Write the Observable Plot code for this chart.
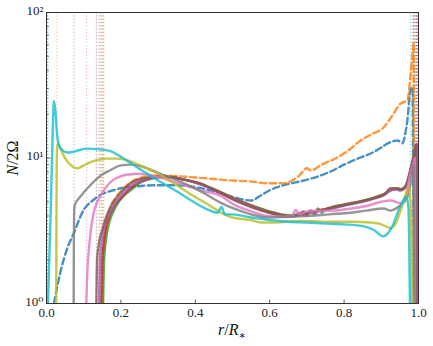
<!DOCTYPE html>
<html><head><meta charset="utf-8">
<script src="https://cdn.jsdelivr.net/npm/d3@7"></script>
<script src="https://cdn.jsdelivr.net/npm/@observablehq/plot@0.6"></script>
<style>
body{margin:0;background:#fff}
svg text{font-family:"Liberation Serif","DejaVu Serif",serif !important;}
</style>
</head><body><div id="chart"></div>
<script>
// ---- data (r/R*, N/2Omega) ----
const models = ["blue","orange","green","red","purple","brown","pink","gray","olive","cyan"];
const modelColors = ["#1f77b4","#ff7f0e","#2ca02c","#d62728","#9467bd","#8c564b","#e377c2","#7f7f7f","#bcbd22","#17becf"];
const dashedModels = ["blue","orange"];

const blueR = [0.02,0.03,0.04,0.056,0.075,0.09,0.1,0.12,0.136,0.16,0.18,0.2,0.226,0.26,0.3,0.35,0.4,0.44,0.47,0.5,0.55,0.575,0.6,0.637,0.67,0.71,0.76,0.8,0.84,0.87,0.9,0.917,0.935,0.944,0.957,0.965,0.97,0.978,0.984,0.987];
const blueN = [1,1.35,1.75,2.4,3.1,3.9,4.4,5.0,5.4,5.8,6.0,6.2,6.3,6.45,6.5,6.5,6.3,6.0,5.7,5.4,5.1,5.5,6.0,6.5,6.8,7.2,8.0,9.0,10.0,10.7,11.8,12.6,13.1,13.2,12.6,15,18,29,30.5,1];

const orangeR = [0.15,0.153,0.16,0.17,0.185,0.2,0.23,0.26,0.3,0.35,0.414,0.5,0.55,0.594,0.637,0.66,0.68,0.7,0.71,0.74,0.782,0.81,0.844,0.875,0.906,0.92,0.933,0.952,0.97,0.978,0.984,0.987,0.988];
const orangeN = [1,2.2,3.3,4.4,5.3,5.9,6.9,7.4,7.6,7.5,7.3,7.0,6.9,6.7,6.7,7.0,7.6,8.5,8.2,9.0,10.1,11.2,13.2,14.6,16.2,18,20.2,23.7,24.8,35.7,52,62,1];

const greenR = [0.152,0.154,0.158,0.163,0.17,0.18,0.192,0.205,0.226,0.253,0.28,0.3,0.33,0.37,0.414,0.47,0.5,0.55,0.6,0.65,0.7,0.72,0.73,0.74,0.75,0.8,0.85,0.88,0.91,0.925,0.94,0.952,0.965,0.978,0.99,0.995,0.997];
const greenN = [1,1.8,2.5,3.1,3.7,4.3,4.9,5.4,6.0,6.8,7.2,7.35,7.4,7.1,6.65,5.8,5.35,4.75,4.3,4.05,4.15,4.2,4.5,4.2,4.45,4.8,5.1,5.35,5.7,6.05,6.2,6.1,6.4,8.3,11.2,12.5,1];

const redR = [0.147,0.149,0.153,0.158,0.165,0.175,0.188,0.2,0.226,0.253,0.28,0.3,0.33,0.37,0.414,0.47,0.5,0.55,0.6,0.65,0.7,0.71,0.72,0.73,0.75,0.8,0.85,0.88,0.91,0.925,0.94,0.952,0.965,0.978,0.99,0.994,0.996];
const redN = [1,1.8,2.5,3.1,3.7,4.3,4.9,5.3,6.2,6.9,7.25,7.4,7.4,7.1,6.6,5.75,5.3,4.7,4.25,4.0,4.1,4.35,4.15,4.35,4.45,4.75,5.05,5.3,5.65,6.0,6.1,6.0,6.3,8.2,11,12.5,1];

const purpleR = [0.141,0.143,0.147,0.152,0.16,0.172,0.185,0.2,0.226,0.253,0.28,0.3,0.33,0.37,0.414,0.47,0.5,0.55,0.6,0.65,0.69,0.7,0.71,0.72,0.73,0.75,0.8,0.85,0.88,0.91,0.925,0.94,0.952,0.965,0.978,0.988,0.993,0.995];
const purpleN = [1,1.8,2.5,3.1,3.7,4.3,4.9,5.5,6.4,7.0,7.3,7.45,7.4,7.1,6.6,5.7,5.25,4.65,4.2,3.95,4.2,4.0,4.3,4.1,4.3,4.4,4.7,5.0,5.25,5.6,6.0,6.1,6.0,6.3,8.0,10.2,12,1];

const brownR = [0.134,0.136,0.14,0.15,0.16,0.172,0.185,0.2,0.226,0.253,0.28,0.3,0.33,0.37,0.414,0.47,0.5,0.55,0.6,0.65,0.68,0.69,0.7,0.71,0.72,0.75,0.8,0.85,0.88,0.91,0.925,0.94,0.952,0.965,0.978,0.987,0.992,0.994];
const brownN = [1,2.0,2.5,3.2,3.9,4.6,5.2,5.8,6.7,7.2,7.4,7.5,7.4,7.1,6.7,5.7,5.2,4.6,4.2,3.95,4.1,4.3,4.15,4.35,4.3,4.45,4.75,5.05,5.3,5.7,6.2,6.2,6.1,6.4,7.9,9.6,12,1];

const pinkR = [0.107,0.109,0.113,0.118,0.126,0.135,0.145,0.16,0.18,0.2,0.22,0.245,0.27,0.3,0.34,0.38,0.414,0.468,0.503,0.55,0.594,0.64,0.66,0.67,0.68,0.7,0.77,0.82,0.863,0.9,0.925,0.952,0.965,0.978,0.987,0.99,0.991];
const pinkN = [1,1.5,2.2,3.0,4.1,4.9,5.5,6.3,7.1,7.5,7.7,7.8,7.7,7.4,6.9,6.4,6.0,5.5,4.8,4.3,4.0,3.95,4.0,4.4,4.1,4.3,4.35,4.5,4.7,5.0,5.1,4.9,5.5,7.8,9.2,10,1];

const grayR = [0.073,0.0735,0.075,0.08,0.085,0.1,0.115,0.13,0.15,0.17,0.2,0.23,0.26,0.3,0.34,0.37,0.42,0.47,0.503,0.55,0.594,0.65,0.71,0.76,0.817,0.86,0.906,0.925,0.945,0.97,0.98,0.987,0.989];
const grayN = [1,2.5,4.6,5.0,5.2,5.8,6.4,7.0,7.7,8.2,8.9,9.0,8.7,7.9,7.2,6.7,5.8,4.9,4.5,4.1,3.9,3.95,4.0,4.1,4.2,4.35,4.5,4.35,4.6,5.35,7,8.9,1];

const oliveR = [0.026,0.027,0.028,0.03,0.035,0.045,0.06,0.075,0.085,0.1,0.13,0.16,0.19,0.22,0.26,0.3,0.35,0.4,0.44,0.47,0.5,0.53,0.55,0.575,0.6,0.683,0.75,0.82,0.87,0.9,0.925,0.94,0.955,0.968,0.975,0.98,0.983];
const oliveN = [1,6,11,12.6,12,10.5,9.2,8.6,8.5,8.9,9.6,9.9,9.9,9.6,8.7,7.8,6.5,5.4,4.7,4.2,3.9,3.8,3.75,3.6,3.6,3.7,3.65,3.65,3.6,3.5,3.3,3.6,4.6,5.8,6.3,4,1];

const cyanR = [0.004,0.008,0.012,0.016,0.02,0.024,0.028,0.035,0.045,0.056,0.07,0.09,0.11,0.14,0.17,0.2,0.23,0.27,0.3,0.35,0.4,0.44,0.46,0.47,0.48,0.5,0.55,0.6,0.65,0.7,0.75,0.8,0.85,0.88,0.905,0.93,0.95,0.968,0.973,0.977];
const cyanN = [1,2.2,5,13,24.8,21,15,12,11.2,10.9,11.0,11.4,11.6,11.5,11.2,10.2,9.1,7.8,7.0,5.9,4.9,4.35,4.2,4.6,4.1,4.1,3.9,3.75,3.65,3.6,3.55,3.5,3.4,3.2,2.9,3.4,4.6,5.4,4.5,1];

// boundaries (dotted vertical lines)
const innerModels = ["blue","cyan","olive","gray","pink","brown","purple","red","orange","green"];
const innerR      = [0.002,0.004,0.028,0.074,0.108,0.134,0.142,0.147,0.151,0.154];
const outerModels = ["cyan","olive","orange","blue","gray","pink","brown","purple","red","green"];
const outerR      = [0.978,0.983,0.986,0.987,0.989,0.991,0.993,0.995,0.996,0.997];

const xTicks = [0, 0.2, 0.4, 0.6, 0.8, 1.0];
const xTickLabels = ["0.0","0.2","0.4","0.6","0.8","1.0"];
const yTicks = [1, 10, 100];
const yTickLabels = ["10\u2070","10\u00b9","10\u00b2"];
const yMinorTicks = [2,3,4,5,6,7,8,9,20,30,40,50,60,70,80,90];

// ---- build tables ----
const seriesR = {blue:blueR, orange:orangeR, green:greenR, red:redR, purple:purpleR, brown:brownR, pink:pinkR, gray:grayR, olive:oliveR, cyan:cyanR};
const seriesN = {blue:blueN, orange:orangeN, green:greenN, red:redN, purple:purpleN, brown:brownN, pink:pinkN, gray:grayN, olive:oliveN, cyan:cyanN};
const colorOf = Object.fromEntries(models.map((m,i)=>[m, modelColors[i]]));
const bounds = innerModels.map((m,i)=>({model:m, r:innerR[i]}))
  .concat(outerModels.map((m,i)=>({model:m, r:outerR[i]})));

const tickShape = {draw(ctx, l){ ctx.moveTo(0,0); ctx.lineTo(0,-l); }};

const lineMarks = models.map(m => Plot.line(
  seriesR[m].map((r,i)=>({r, N: seriesN[m][i]})),
  {x:"r", y:"N", stroke: colorOf[m], strokeWidth: 2.4, strokeOpacity: 0.82,
   strokeDasharray: dashedModels.includes(m) ? "6.5,3.5" : null,
   curve: "monotone-x", clip: true}
));

const svg = Plot.plot({
  width: 433, height: 346,
  marginLeft: 46, marginRight: 15, marginTop: 12, marginBottom: 43,
  style: {fontSize: "13px", background: "#fff"},
  x: {domain: [0, 1]},
  y: {type: "log", domain: [1, 100]},
  marks: [
    Plot.ruleX(bounds, {x: "r", stroke: d => colorOf[d.model], strokeWidth: 1, strokeOpacity: 0.6, strokeDasharray: "1.3,2"}),
    ...lineMarks,
    Plot.frame({stroke: "#333", strokeWidth: 1}),
    Plot.vector(xTicks, {x: d => d, frameAnchor: "bottom", length: 3.5, anchor: "start", rotate: 0, shape: tickShape, stroke: "#333", strokeWidth: 0.8}),
    Plot.vector(yTicks, {y: d => d, frameAnchor: "left", length: 3.5, anchor: "start", rotate: 90, shape: tickShape, stroke: "#333", strokeWidth: 0.8}),
    Plot.vector(yMinorTicks, {y: d => d, frameAnchor: "left", length: 2, anchor: "start", rotate: 90, shape: tickShape, stroke: "#333", strokeWidth: 0.6}),
    Plot.axisX({ticks: xTicks, tickFormat: d => xTickLabels[xTicks.indexOf(d)], tickSize: 0, tickPadding: 4, label: null, fill: "#222"}),
    Plot.axisY({ticks: yTicks, tickFormat: d => yTickLabels[yTicks.indexOf(d)], tickSize: 0, tickPadding: 3, dy: -2, label: null, fill: "#222"})
  ]
});
document.getElementById("chart").append(svg);

// axis titles with math-style formatting
const s = d3.select(svg);
const yl = s.append("text")
  .attr("transform", "translate(18,158) rotate(-90)")
  .attr("text-anchor", "middle")
  .attr("font-size", 16)
  .attr("fill", "#111");
yl.append("tspan").attr("font-style", "italic").text("N");
yl.append("tspan").text("/2\u03a9");
const xl = s.append("text")
  .attr("x", 232).attr("y", 335)
  .attr("text-anchor", "middle")
  .attr("font-size", 16)
  .attr("fill", "#111");
xl.append("tspan").attr("font-style", "italic").text("r");
xl.append("tspan").text("/");
xl.append("tspan").attr("font-style", "italic").text("R");
xl.append("tspan").attr("font-size", 11).attr("dy", 4).text("\u2217");
</script>
</body></html>
